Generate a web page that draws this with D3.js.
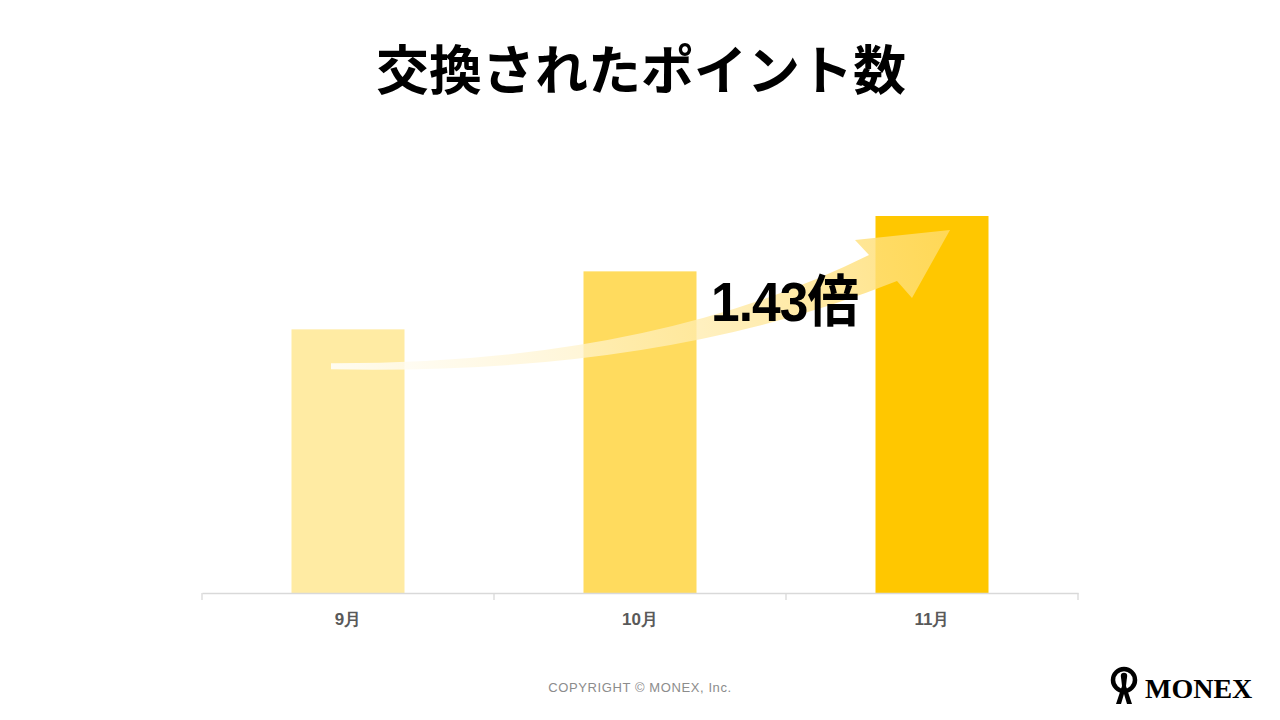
<!DOCTYPE html>
<html>
<head>
<meta charset="utf-8">
<script src="https://cdn.jsdelivr.net/npm/d3@7"></script>
<style>
  body { margin: 0; background: #fff; }
  svg { display: block; }
</style>
</head>
<body>
<div id="chart"></div>
<script>
var width = 1280,
    height = 720;

// data (index, 9月 = 100)
var months = ["9月", "10月", "11月"];
var points = [100, 122, 143];
var barColors = ["#FFEBA3", "#FFDB5E", "#FFC700"];
var ratioLabel = "1.43倍";

var svg = d3.select("#chart").append("svg")
    .attr("width", width)
    .attr("height", height);

var x = d3.scaleBand()
    .domain(months)
    .range([202, 1078])
    .padding(0);

var y = d3.scaleLinear()
    .domain([0, 143])
    .range([593, 216]);

var barW = x.bandwidth() * 0.387;

// title
svg.append("text")
    .attr("x", 641)
    .attr("y", 90)
    .attr("text-anchor", "middle")
    .style("font-family", "'Noto Sans CJK JP', sans-serif")
    .style("font-weight", "bold")
    .style("font-size", "53px")
    .style("fill", "#000")
    .text("交換されたポイント数");

// bars
svg.append("g").selectAll("rect")
    .data(points)
    .enter().append("rect")
    .attr("x", function(d, i) { return x(months[i]) + (x.bandwidth() - barW) / 2; })
    .attr("y", function(d) { return y(d); })
    .attr("width", barW)
    .attr("height", function(d) { return y(0) - y(d); })
    .style("fill", function(d, i) { return barColors[i]; });

// axis
var axis = svg.append("g")
    .attr("transform", "translate(0," + y(0) + ")")
    .call(d3.axisBottom(x).tickSize(0).tickPadding(20));
axis.select(".domain").attr("stroke", "#d9d9d9").attr("stroke-width", 1.3);
axis.selectAll(".tick text")
    .style("font-family", "'Liberation Sans', Arial, sans-serif")
    .style("font-weight", "bold")
    .style("font-size", "17px")
    .style("fill", "#595959");

// tick marks at band boundaries
var edges = months.map(function(m) { return x(m); }).concat([x.range()[1]]);
axis.selectAll(".edge")
    .data(edges)
    .enter().append("line")
    .attr("class", "edge")
    .attr("x1", function(d) { return d; })
    .attr("x2", function(d) { return d; })
    .attr("y1", 0)
    .attr("y2", 7)
    .attr("stroke", "#d9d9d9")
    .attr("stroke-width", 1.3);

// growth arrow
var defs = svg.append("defs");
var grad = defs.append("linearGradient")
    .attr("id", "arrowGrad")
    .attr("gradientUnits", "userSpaceOnUse")
    .attr("x1", 330).attr("y1", 368)
    .attr("x2", 950).attr("y2", 232);
grad.append("stop").attr("offset", "0%").attr("stop-color", "#ffffff").attr("stop-opacity", 0.85);
grad.append("stop").attr("offset", "45%").attr("stop-color", "#FFF1C4").attr("stop-opacity", 0.75);
grad.append("stop").attr("offset", "100%").attr("stop-color", "#FFDB66").attr("stop-opacity", 0.85);

var x0 = x(months[0]) + x.bandwidth() / 2 - 17,
    y0 = y(points[0] * 0.86);

svg.append("path")
    .attr("d", "M" + x0 + "," + (y0 - 3) +
      " Q650,364 869,255" +
      " L855,240 L950,230 L912,298 L897,281" +
      " Q660,376 " + x0 + "," + (y0 + 3) + " Z")
    .style("fill", "url(#arrowGrad)");

// ratio label
svg.append("text")
    .attr("transform", "translate(711,321) scale(0.92,1)")
    .style("font-family", "'Liberation Sans', Arial, 'Noto Sans CJK JP', sans-serif")
    .style("font-weight", "bold")
    .style("font-size", "56px")
    .style("letter-spacing", "-1px")
    .style("fill", "#000")
    .text(ratioLabel);

// footer
svg.append("text")
    .attr("x", 640)
    .attr("y", 692)
    .attr("text-anchor", "middle")
    .style("font-family", "'Liberation Sans', Arial, sans-serif")
    .style("font-size", "13px")
    .style("letter-spacing", "0.6px")
    .style("fill", "#8c8c8c")
    .text("COPYRIGHT © MONEX, Inc.");

// logo
var logo = svg.append("g").attr("transform", "translate(1124,686)");
logo.append("circle")
    .attr("cx", 0).attr("cy", -6).attr("r", 11)
    .attr("fill", "none").attr("stroke", "#000").attr("stroke-width", 4.5);
logo.append("path")
    .attr("d", "M-3,-9 L3,-9 L2,0 L8,18 L3,18 L0,8 L-3,18 L-8,18 L-2,0 Z")
    .attr("fill", "#000");
logo.append("circle").attr("cx", 0).attr("cy", -10).attr("r", 3.2).attr("fill", "#000");
svg.append("text")
    .attr("x", 1145)
    .attr("y", 698)
    .style("font-family", "'Liberation Serif', 'DejaVu Serif', serif")
    .style("font-weight", "bold")
    .style("font-size", "28px")
    .style("fill", "#000")
    .text("MONEX");
</script>
</body>
</html>
